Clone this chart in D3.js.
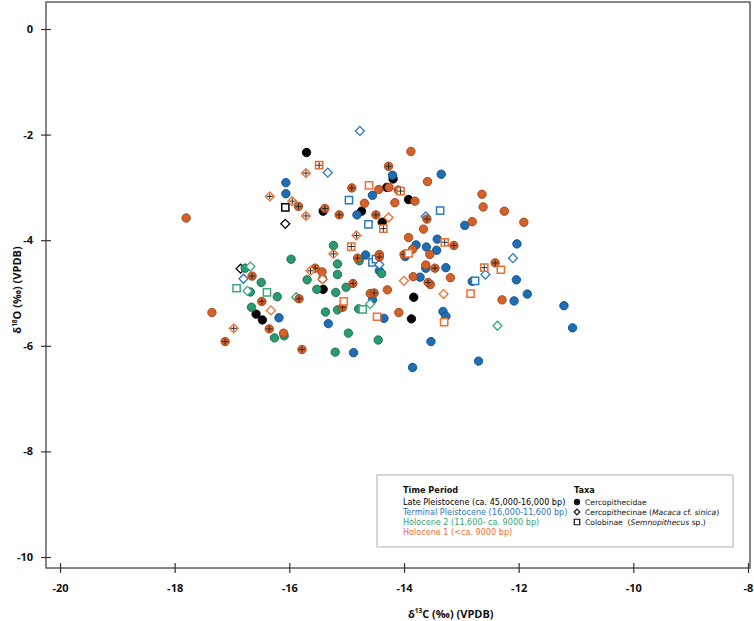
<!DOCTYPE html>
<html>
<head>
<meta charset="utf-8">
<script src="https://cdn.jsdelivr.net/npm/d3@7"></script>
<style>
  body { margin: 0; background: #fff; }
  svg { display: block; font-family: "Open Sans", sans-serif; }
  .leg { font-family: "DejaVu Sans", sans-serif; }
</style>
</head>
<body>
<div id="plot"></div>
<script>
// [d13C, d18O, taxon, cross]  taxon: C = Cercopithecidae, M = Macaca, S = Semnopithecus
let latePleistocene = [
  [-15.70,-2.34,"C",0],[-15.41,-3.45,"C",0],[-14.19,-2.84,"C",0],[-14.30,-3.00,"C",0],
  [-13.92,-3.23,"C",0],[-14.74,-3.45,"C",0],[-14.38,-3.66,"C",0],[-15.41,-4.93,"C",0],
  [-16.58,-5.40,"C",0],[-16.47,-5.51,"C",0],[-13.83,-5.08,"C",0],[-13.87,-5.49,"C",0],
  [-16.07,-3.38,"S",0],[-16.07,-3.69,"M",0],[-16.85,-4.54,"M",0]
];

let terminalPleistocene = [
  [-16.06,-2.91,"C",0],[-16.06,-3.12,"C",0],[-14.20,-2.77,"C",0],[-13.35,-2.75,"C",0],
  [-14.55,-3.15,"C",0],[-14.82,-3.52,"C",0],[-12.94,-3.72,"C",0],[-13.42,-3.98,"C",0],
  [-13.79,-4.09,"C",0],[-13.61,-4.13,"C",0],[-13.43,-4.19,"C",0],[-12.03,-4.07,"C",0],
  [-14.67,-4.28,"C",0],[-14.43,-4.58,"C",0],[-13.98,-4.31,"C",0],[-13.62,-4.53,"C",0],
  [-13.27,-4.52,"C",0],[-13.72,-4.70,"C",0],[-12.81,-4.78,"C",0],[-12.04,-4.75,"C",0],
  [-11.85,-5.02,"C",0],[-12.08,-5.15,"C",0],[-11.21,-5.24,"C",0],[-11.06,-5.66,"C",0],
  [-16.18,-5.47,"C",0],[-15.32,-5.58,"C",0],[-14.55,-5.13,"C",0],[-14.35,-5.48,"C",0],
  [-13.32,-5.35,"C",0],[-13.27,-5.44,"C",0],[-13.53,-5.92,"C",0],[-14.88,-6.13,"C",0],
  [-13.85,-6.41,"C",0],[-12.70,-6.29,"C",0],
  [-14.96,-3.24,"S",0],[-13.37,-3.44,"S",0],[-14.62,-3.70,"S",0],[-14.55,-4.42,"S",0],
  [-14.49,-4.36,"S",0],[-12.76,-4.77,"S",0],
  [-14.77,-1.93,"M",0],[-15.33,-2.72,"M",0],[-13.62,-3.55,"M",0],[-16.80,-4.73,"M",0],
  [-14.43,-4.46,"M",0],[-12.58,-4.65,"M",0],[-12.10,-4.34,"M",0]
];

let holocene2 = [
  [-15.23,-4.10,"C",0],[-15.97,-4.36,"C",0],[-15.16,-4.45,"C",0],[-16.77,-4.53,"C",0],
  [-15.69,-4.75,"C",0],[-15.42,-4.73,"C",0],[-15.16,-4.65,"C",0],[-16.49,-4.80,"C",0],
  [-16.68,-4.98,"C",0],[-16.21,-5.07,"C",0],[-15.52,-4.93,"C",0],[-15.19,-4.99,"C",0],
  [-16.66,-5.27,"C",0],[-15.37,-5.36,"C",0],[-15.16,-5.32,"C",0],[-16.26,-5.85,"C",0],
  [-16.09,-5.81,"C",0],[-15.20,-6.12,"C",0],[-14.78,-4.39,"C",0],[-14.39,-4.63,"C",0],
  [-15.01,-4.89,"C",0],[-14.79,-5.30,"C",0],[-14.97,-5.76,"C",0],[-14.45,-5.89,"C",0],
  [-16.92,-4.91,"S",0],[-16.39,-4.99,"S",0],[-14.72,-5.31,"S",0],
  [-16.68,-4.50,"M",0],[-16.73,-4.96,"M",0],[-15.88,-5.08,"M",0],[-14.59,-5.21,"M",0],
  [-12.37,-5.62,"M",0]
];

let holocene1 = [
  [-17.80,-3.58,"C",0],[-13.88,-2.32,"C",0],[-13.59,-2.89,"C",0],[-14.26,-3.00,"C",0],
  [-14.44,-3.04,"C",0],[-13.81,-3.26,"C",0],[-14.69,-3.30,"C",0],[-14.16,-3.29,"C",0],
  [-12.64,-3.13,"C",0],[-12.62,-3.37,"C",0],[-12.25,-3.45,"C",0],[-12.81,-3.65,"C",0],
  [-11.91,-3.66,"C",0],[-13.66,-3.79,"C",0],[-13.92,-3.95,"C",0],[-13.85,-4.17,"C",0],
  [-13.55,-4.27,"C",0],[-13.62,-4.47,"C",0],[-13.84,-4.69,"C",0],[-13.54,-4.84,"C",0],
  [-13.19,-4.71,"C",0],[-14.43,-4.27,"C",0],[-15.43,-4.60,"C",0],[-17.35,-5.37,"C",0],
  [-16.10,-5.76,"C",0],[-14.59,-5.01,"C",0],[-14.29,-4.94,"C",0],[-14.09,-5.37,"C",0],
  [-12.29,-5.13,"C",0],
  [-15.84,-3.36,"C",1],[-15.38,-3.40,"C",1],[-14.27,-2.60,"C",1],[-14.91,-3.01,"C",1],
  [-14.10,-3.05,"C",1],[-14.49,-3.52,"C",1],[-15.13,-3.52,"C",1],[-13.60,-3.60,"C",1],
  [-13.13,-4.10,"C",1],[-16.65,-4.68,"C",1],[-15.55,-4.53,"C",1],[-15.83,-5.11,"C",1],
  [-16.48,-5.16,"C",1],[-16.35,-5.68,"C",1],[-17.12,-5.92,"C",1],[-15.78,-6.07,"C",1],
  [-14.81,-4.34,"C",1],[-14.43,-4.32,"C",1],[-14.00,-4.27,"C",1],[-13.46,-4.53,"C",1],
  [-13.58,-4.80,"C",1],[-14.89,-4.82,"C",1],[-14.52,-5.00,"C",1],[-15.07,-5.27,"C",1],
  [-12.41,-4.43,"C",1],
  [-15.48,-2.58,"S",1],[-14.06,-3.07,"S",1],[-14.36,-3.78,"S",1],[-13.29,-4.04,"S",1],
  [-14.92,-4.12,"S",1],[-12.60,-4.52,"S",1],
  [-14.61,-2.96,"S",0],[-13.92,-4.25,"S",0],[-15.05,-5.16,"S",0],[-14.47,-5.45,"S",0],
  [-13.30,-5.55,"S",0],[-12.84,-5.01,"S",0],[-12.31,-4.56,"S",0],
  [-15.71,-2.73,"M",1],[-16.34,-3.17,"M",1],[-15.95,-3.26,"M",1],[-15.71,-3.54,"M",1],
  [-14.83,-3.91,"M",1],[-15.23,-4.26,"M",1],[-15.63,-4.58,"M",1],[-16.97,-5.67,"M",1],
  [-14.27,-3.57,"M",0],[-15.42,-4.74,"M",0],[-16.32,-5.33,"M",0],[-14.00,-4.77,"M",0],
  [-13.31,-5.02,"M",0]
];

let xTicks = [-20, -18, -16, -14, -12, -10, -8];
let yTicks = [0, -2, -4, -6, -8, -10];

let periodLabels = [
  "Late Pleistocene (ca. 45,000-16,000 bp)",
  "Terminal Pleistocene (16,000-11,600 bp)",
  "Holocene 2 (11,600- ca. 9000 bp)",
  "Holocene 1 (<ca. 9000 bp)"
];

let series = [
  {data: latePleistocene, fill: '#000000', stroke: '#000000', open: '#000000', text: '#000000'},
  {data: terminalPleistocene, fill: '#1f6db3', stroke: '#0e4c85', open: '#2e78c2', text: '#2e75b6'},
  {data: holocene2, fill: '#2a9b6f', stroke: '#176a4a', open: '#3aa87c', text: '#36a176'},
  {data: holocene1, fill: '#d5612a', stroke: '#9a4218', open: '#ec6f32', text: '#ea6d2e'}
];

let width = 754, height = 621;
let fLeft = 46, fRight = 750, fTop = 2, fBottom = 568;

let svg = d3.select('#plot').append('svg').attr('width', width).attr('height', height);

let x = d3.scaleLinear().domain([-20, -8]).range([60, 748]);
let y = d3.scaleLinear().domain([0, -10]).range([29, 557]);

// frame
svg.append('rect')
  .attr('x', fLeft).attr('y', fTop)
  .attr('width', fRight - fLeft).attr('height', fBottom - fTop)
  .attr('fill', 'none').attr('stroke', '#5f5f5f').attr('stroke-width', 1.5);

let xAxis = svg.append('g')
  .attr('transform', `translate(0,${fBottom})`)
  .call(d3.axisBottom(x).tickValues(xTicks).tickSize(5).tickPadding(11).tickFormat(d => String(d)));
xAxis.select('.domain').remove();
xAxis.selectAll('.tick line').attr('y1', -5).attr('stroke', '#333').attr('stroke-width', 1.2);

let yAxis = svg.append('g')
  .attr('transform', `translate(${fLeft},0)`)
  .call(d3.axisLeft(y).tickValues(yTicks).tickSize(5).tickPadding(8).tickFormat(d => String(d)));
yAxis.select('.domain').remove();
yAxis.selectAll('.tick line').attr('x1', 5).attr('stroke', '#333').attr('stroke-width', 1.2);

svg.selectAll('.tick text')
  .attr('font-family', '"Open Sans", sans-serif')
  .attr('font-size', 11).attr('font-weight', 'bold').attr('fill', '#111');

// axis titles
let xt = svg.append('text').attr('x', 408).attr('y', 617.5)
  .attr('font-size', 11).attr('font-weight', 'bold').attr('fill', '#111');
xt.append('tspan').text('δ');
xt.append('tspan').attr('font-size', 6.5).attr('dy', -4.5).text('13');
xt.append('tspan').attr('dy', 4.5).text('C (‰) (VPDB)');

let yt = svg.append('text').attr('transform', 'translate(21,290) rotate(-90)')
  .attr('text-anchor', 'middle')
  .attr('font-size', 11).attr('font-weight', 'bold').attr('fill', '#111');
yt.append('tspan').text('δ');
yt.append('tspan').attr('font-size', 6.5).attr('dy', -4.5).text('18');
yt.append('tspan').attr('dy', 4.5).text('O (‰) (VPDB)');

// markers
let g = svg.append('g');
let sq = d3.symbol().type(d3.symbolSquare);

series.forEach(s => {
  let pts = g.selectAll(null).data(s.data).enter().append('g')
    .attr('transform', d => `translate(${x(d[0])},${y(d[1])})`);

  pts.filter(d => d[2] === 'C').append('circle')
    .attr('r', 4.2)
    .attr('fill', s.fill).attr('stroke', s.stroke).attr('stroke-width', 0.9);

  pts.filter(d => d[2] === 'S').append('path')
    .attr('d', sq.size(52)())
    .attr('fill', 'white').attr('stroke', s.open).attr('stroke-width', 1.5);

  pts.filter(d => d[2] === 'M').append('path')
    .attr('d', sq.size(40)())
    .attr('transform', 'rotate(45)')
    .attr('fill', 'white').attr('stroke', s.open).attr('stroke-width', 1.3);

  let cr = pts.filter(d => d[3] === 1);
  cr.append('line').attr('x1', -3).attr('x2', 3).attr('stroke', '#2b2b2b').attr('stroke-width', 1);
  cr.append('line').attr('y1', -3).attr('y2', 3).attr('stroke', '#2b2b2b').attr('stroke-width', 1);
});

// legend
let lg = svg.append('g').attr('class', 'leg');
lg.append('rect').attr('x', 377).attr('y', 475).attr('width', 356).attr('height', 72)
  .attr('fill', 'white').attr('stroke', '#bdbdbd').attr('stroke-width', 1.2);

lg.append('text').attr('x', 403).attr('y', 492.5)
  .attr('font-size', 8.2).attr('font-weight', 'bold').attr('fill', '#111').text('Time Period');

lg.selectAll('.period').data(periodLabels).enter().append('text')
  .attr('class', 'period')
  .attr('x', 403).attr('y', (d, i) => 505.3 + i * 9.8)
  .attr('font-size', 8.1)
  .attr('fill', (d, i) => series[i].text)
  .text(d => d);

lg.append('text').attr('x', 574).attr('y', 492.5)
  .attr('font-size', 8.2).attr('font-weight', 'bold').attr('fill', '#111').text('Taxa');

let ty = [502, 512, 522];
lg.append('circle').attr('cx', 577).attr('cy', ty[0]).attr('r', 3.2).attr('fill', '#111');
lg.append('path').attr('d', sq.size(16)()).attr('transform', `translate(577,${ty[1]}) rotate(45)`)
  .attr('fill', 'none').attr('stroke', '#111').attr('stroke-width', 1.2);
lg.append('path').attr('d', sq.size(30)()).attr('transform', `translate(577,${ty[2]})`)
  .attr('fill', 'none').attr('stroke', '#111').attr('stroke-width', 1.2);

let t1 = lg.append('text').attr('x', 585).attr('y', ty[0] + 3).attr('font-size', 7.6).attr('fill', '#111');
t1.text('Cercopithecidae');
let t2 = lg.append('text').attr('x', 585).attr('y', ty[1] + 3).attr('font-size', 7.6).attr('fill', '#111');
t2.append('tspan').text('Cercopithecinae (');
t2.append('tspan').attr('font-style', 'italic').text('Macaca');
t2.append('tspan').text(' cf. ');
t2.append('tspan').attr('font-style', 'italic').text('sinica');
t2.append('tspan').text(')');
let t3 = lg.append('text').attr('x', 585).attr('y', ty[2] + 3).attr('font-size', 7.6).attr('fill', '#111')
  .attr('xml:space', 'preserve');
t3.append('tspan').text('Colobinae  (');
t3.append('tspan').attr('font-style', 'italic').text('Semnopithecus');
t3.append('tspan').text(' sp.)');
</script>
</body>
</html>
